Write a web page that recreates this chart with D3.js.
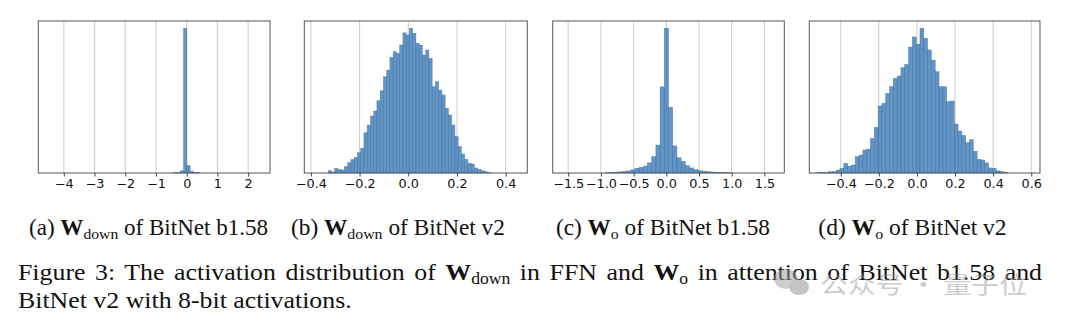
<!DOCTYPE html>
<html><head><meta charset="utf-8">
<script src="https://cdn.jsdelivr.net/npm/d3@7"></script>
<style>body{margin:0;background:#fff;overflow:hidden}</style>
</head><body>
<svg id="chart" width="1080" height="323"></svg>
<script>
// ---------------- data ----------------
// (a) W_down of BitNet b1.58
const aBinStart = -0.424, aBinWidth = 0.107;
const aCounts = [0.2, 0.4, 1.5, 100, 5.2, 1.2, 0.4, 0.2];
const aXlim = [-4.83, 2.71];
const aTicks = [-4, -3, -2, -1, 0, 1, 2];
const aTickLabels = ["−4", "−3", "−2", "−1", "0", "1", "2"];

// (b) W_down of BitNet v2
const bBinStart = -0.329, bBinWidth = 0.01335;
const bCounts = [1.6, 0.7, 3.2, 2.5, 2.1, 4.4, 7.1, 9.4, 10.8, 14.0, 17.0, 27.8, 33.1, 39.4, 42.8, 49.9, 56.8, 66.5, 71.1, 79.9,
  83.8, 82.7, 88.4, 96.8, 95.3, 100, 96.5, 89.6, 88.4, 81.5, 84.9, 79.2, 59.6, 63.1, 57.3, 53.9, 44.7, 40.1, 33.1, 25.1,
  18.2, 13.1, 9.5, 6.7, 6.2, 3.5, 2.5, 1.6, 0.9, 0.5];
const bXlim = [-0.427, 0.489];
const bTicks = [-0.4, -0.2, 0.0, 0.2, 0.4];
const bTickLabels = ["−0.4", "−0.2", "0.0", "0.2", "0.4"];

// (c) W_o of BitNet b1.58
const cBinStart = -0.932, cBinWidth = 0.0644;
const cCounts = [0.2, 0.3, 0.6, 0.8, 1.1, 1.4, 2.1, 3.2, 3.9, 4.8, 7.0, 11.3, 19.3, 59.5, 100, 45.4, 18.7, 10.5, 8.0, 5.0,
  3.5, 2.3, 1.6, 1.2, 0.9, 0.7, 0.5, 0.4, 0.3, 0.2];
const cXlim = [-1.737, 1.804];
const cTicks = [-1.5, -1.0, -0.5, 0.0, 0.5, 1.0, 1.5];
const cTickLabels = ["−1.5", "−1.0", "−0.5", "0.0", "0.5", "1.0", "1.5"];

// (d) W_o of BitNet v2
const dBinStart = -0.524, dBinWidth = 0.02;
const dCounts = [0.3, 0.5, 0.3, 0.9, 1.0, 2.1, 3.2, 6.7, 4.8, 5.5, 11.3, 12.4, 15.9, 16.5, 23.9, 31.5, 46.3, 48.1, 55, 59.6,
  65.4, 67, 72.7, 75, 87, 94, 89, 100, 93, 85, 78, 70, 59.6, 59.6, 49.3, 49.7, 33.8, 29, 26, 21,
  23, 15, 9.5, 9, 7, 3.5, 3.2, 1.5, 1.0, 0.5];
const dXlim = [-0.565, 0.646];
const dTicks = [-0.4, -0.2, 0.0, 0.2, 0.4, 0.6];
const dTickLabels = ["−0.4", "−0.2", "0.0", "0.2", "0.4", "0.6"];

const yMaxCount = 105;

const subLetters = ["(a)", "(b)", "(c)", "(d)"];
const subMatrix = ["down", "down", "o", "o"];
const subModel = ["BitNet b1.58", "BitNet v2", "BitNet b1.58", "BitNet v2"];

const captionLine1 = [
  {t: "Figure 3: The activation distribution of "}, {t: "W", b: true}, {t: "down", sub: true},
  {t: " in FFN and "}, {t: "W", b: true}, {t: "o", sub: true},
  {t: " in attention of BitNet b1.58 and"}
];
const captionLine2 = [{t: "BitNet v2 with 8-bit activations."}];
const watermark = "公众号 · 量子位";

// ---------------- drawing ----------------
const svg = d3.select("#chart");
svg.append("rect").attr("width", 1080).attr("height", 323).attr("fill", "#fff");

const panels = [
  {start: aBinStart, w: aBinWidth, counts: aCounts, xlim: aXlim, ticks: aTicks, labels: aTickLabels, L: 38.3, R: 270},
  {start: bBinStart, w: bBinWidth, counts: bCounts, xlim: bXlim, ticks: bTicks, labels: bTickLabels, L: 304.3, R: 527.3},
  {start: cBinStart, w: cBinWidth, counts: cCounts, xlim: cXlim, ticks: cTicks, labels: cTickLabels, L: 552.7, R: 784.3},
  {start: dBinStart, w: dBinWidth, counts: dCounts, xlim: dXlim, ticks: dTicks, labels: dTickLabels, L: 809.3, R: 1040}
];
const TOP = 21, BOT = 173;
const TICK_SX = 1.07;

panels.forEach(p => {
  const x = d3.scaleLinear().domain(p.xlim).range([p.L, p.R]);
  const y = d3.scaleLinear().domain([0, yMaxCount]).range([BOT, TOP]);
  const g = svg.append("g");
  g.selectAll("line.grid").data(p.ticks).join("line")
    .attr("x1", d => x(d)).attr("x2", d => x(d))
    .attr("y1", TOP).attr("y2", BOT)
    .attr("stroke", "#cfcfcf").attr("stroke-width", 1.1);
  g.selectAll("rect.bar").data(p.counts).join("rect")
    .attr("x", (d, i) => x(p.start + i * p.w))
    .attr("width", (d, i) => x(p.start + (i + 1) * p.w) - x(p.start + i * p.w))
    .attr("y", d => y(d))
    .attr("height", d => y(0) - y(d))
    .attr("fill", "#3f7cb8").attr("fill-opacity", 0.82)
    .attr("stroke", "#3a6c9c").attr("stroke-width", 0.45).attr("stroke-opacity", 0.8);
  g.append("rect").attr("x", p.L).attr("y", TOP)
    .attr("width", p.R - p.L).attr("height", BOT - TOP)
    .attr("fill", "none").attr("stroke", "#555").attr("stroke-width", 1);
  const ax = d3.axisBottom(x).tickValues(p.ticks)
    .tickFormat((d, i) => p.labels[i]).tickSize(3.5).tickPadding(3);
  const axg = g.append("g").attr("transform", `translate(0,${BOT})`).call(ax);
  axg.select(".domain").remove();
  axg.selectAll(".tick line").attr("stroke", "#333").attr("stroke-width", 0.9);
  axg.selectAll(".tick text")
    .attr("font-family", "'DejaVu Sans', sans-serif").attr("font-size", 12)
    .attr("fill", "#111")
    .attr("transform", `scale(${TICK_SX},1)`);
});

// ---------- captions ----------
const SERIF = "'Liberation Serif', 'Times New Roman', serif";

function richText(parent, parts, fs) {
  const t = parent.append("text").attr("x", 0).attr("y", 0)
    .attr("font-family", SERIF).attr("font-size", fs).attr("fill", "#111")
    .style("white-space", "pre");
  let inSub = false;
  parts.forEach(pt => {
    const ts = t.append("tspan").text(pt.t);
    if (pt.b) ts.attr("font-weight", "bold");
    if (pt.sub) { ts.attr("font-size", fs * 0.68).attr("dy", 4.5); inSub = true; }
    else if (inSub) { ts.attr("dy", -4.5); inSub = false; }
  });
  return t;
}

const subStarts = [29, 291, 556, 818.3];
const subEnds = [268.3, 505, 770, 1006.7];
subLetters.forEach((L, i) => {
  const g = svg.append("g");
  const t = richText(g, [{t: L + " "}, {t: "W", b: true}, {t: subMatrix[i], sub: true}, {t: " of " + subModel[i]}], 22.5);
  const w = t.node().getBBox().width;
  g.attr("transform", `translate(${subStarts[i]},234.5) scale(${(subEnds[i] - subStarts[i]) / w},1)`);
});

const g2 = svg.append("g");
const t2 = richText(g2, captionLine2, 23.5);
const w2 = t2.node().getBBox().width;
const capSx = (352 - 18) / w2;
g2.attr("transform", `translate(18,307.5) scale(${capSx},1)`);

const g1 = svg.append("g");
const t1 = richText(g1, captionLine1, 23.5);
const w1 = t1.node().getBBox().width;
const nSpaces = captionLine1.map(p => p.t).join("").split(" ").length - 1;
const extra = ((1043 - 18) / capSx - w1) / nSpaces;
t1.attr("word-spacing", extra);
g1.attr("transform", `translate(18,279.5) scale(${capSx},1)`);

// watermark
const wg = svg.append("g").attr("opacity", 0.5);
wg.append("ellipse").attr("cx", 786).attr("cy", 279).attr("rx", 12).attr("ry", 10).attr("fill", "#9c9c9c");
wg.append("ellipse").attr("cx", 799).attr("cy", 287).attr("rx", 10).attr("ry", 8).attr("fill", "#8a8a8a");
const wt = wg.append("text").attr("x", 0).attr("y", 0)
  .attr("font-family", "'Noto Sans CJK SC', sans-serif").attr("font-size", 23)
  .attr("fill", "#9a9a9a").text(watermark);
const ww = wt.node().getBBox().width;
wt.attr("transform", `translate(820,293) scale(${(1027 - 820) / ww},1)`);
</script>
</body></html>
